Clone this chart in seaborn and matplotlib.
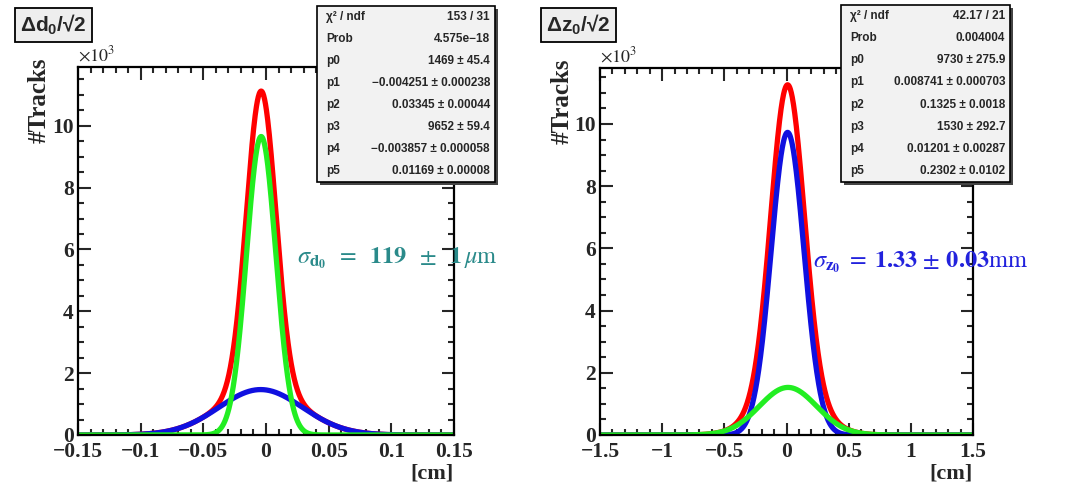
import numpy as np
import pandas as pd
import matplotlib
matplotlib.use("Agg")
import matplotlib.pyplot as plt
import seaborn as sns
from matplotlib.patches import Rectangle
from matplotlib.ticker import FixedLocator, FixedFormatter, MultipleLocator

# ---------------- data ----------------
titles = ["Δd$_\\mathrm{0}$/√2", "Δz$_\\mathrm{0}$/√2"]
stat_labels = ["χ² / ndf", "Prob", "p0", "p1", "p2", "p3", "p4", "p5"]
d0_stat_values = ["153 / 31", "4.575e\u221218", "1469 ± 45.4", "\u22120.004251 ± 0.000238",
                  "0.03345 ± 0.00044", "9652 ± 59.4", "\u22120.003857 ± 0.000058",
                  "0.01169 ± 0.00008"]
z0_stat_values = ["42.17 / 21", "0.004004", "9730 ± 275.9", "0.008741 ± 0.000703",
                  "0.1325 ± 0.0018", "1530 ± 292.7", "0.01201 ± 0.00287",
                  "0.2302 ± 0.0102"]

# double-gaussian fit parameters (p0..p5) shown in the stat boxes
d0_amp = [1469, 9652]
d0_mean = [-0.004251, -0.003857]
d0_sigma = [0.03345, 0.01169]
z0_amp = [9730, 1530]
z0_mean = [0.008741, 0.01201]
z0_sigma = [0.1325, 0.2302]

d0_xticks = [-0.15, -0.1, -0.05, 0, 0.05, 0.1, 0.15]
d0_xlabels = ["\u22120.15", "\u22120.1", "\u22120.05", "0", "0.05", "0.1", "0.15"]
z0_xticks = [-1.5, -1, -0.5, 0, 0.5, 1, 1.5]
z0_xlabels = ["\u22121.5", "\u22121", "\u22120.5", "0", "0.5", "1", "1.5"]
yticks = [0, 2, 4, 6, 8, 10]
ytick_labels = ["0", "2", "4", "6", "8", "10"]

sigma_texts = [r"$\sigma_{\mathbf{d_0}}\;\;=\;\;\mathbf{119}\;\;\pm\;\;\mathbf{1}\,\mu\mathrm{m}$",
               r"$\sigma_{\mathbf{z_0}}\;=\;\mathbf{1.33}\,\pm\,\mathbf{0.03}\mathrm{mm}$"]
sigma_colors = ["#2a8a8a", "#2222dd"]

# ---------------- style ----------------
sns.set_style("ticks")
plt.rcParams["font.family"] = ["Liberation Serif", "DejaVu Serif"]
plt.rcParams["mathtext.fontset"] = "custom"
plt.rcParams["mathtext.rm"] = "Liberation Sans:bold"
plt.rcParams["mathtext.it"] = "Liberation Sans:bold:italic"
plt.rcParams["mathtext.bf"] = "Liberation Sans:bold"

W, H = 1067, 488
fig = plt.figure(figsize=(W / 100, H / 100), dpi=100)
fig.patch.set_facecolor("white")


def fx(px):
    return px / W


def fy(py):
    return 1 - py / H


def gauss(x, a, m, s):
    return a * np.exp(-0.5 * ((x - m) / s) ** 2)


panels = [
    dict(rect=(78, 67, 454, 435), xr=(-0.15, 0.15), ymax=11.9, amp=d0_amp, mean=d0_mean,
         sig=d0_sigma, xt=d0_xticks, xl=d0_xlabels, xminor=0.01, stat=d0_stat_values,
         box=(317, 6, 495, 182), title_xy=(20, 25), sig_xy=(297, 258)),
    dict(rect=(600, 68, 973, 435), xr=(-1.5, 1.5), ymax=11.8, amp=z0_amp, mean=z0_mean,
         sig=z0_sigma, xt=z0_xticks, xl=z0_xlabels, xminor=0.1, stat=z0_stat_values,
         box=(841, 5, 1010, 182), title_xy=(546, 25), sig_xy=(813, 262)),
]

for i, p in enumerate(panels):
    l, t, r, b = p["rect"]
    ax = fig.add_axes([fx(l), fy(b), fx(r - l), fy(t) - fy(b)])
    x = np.linspace(p["xr"][0], p["xr"][1], 1200)
    g1 = gauss(x, p["amp"][0], p["mean"][0], p["sig"][0]) / 1000
    g2 = gauss(x, p["amp"][1], p["mean"][1], p["sig"][1]) / 1000
    df = pd.concat([
        pd.DataFrame({"x": x, "y": g1 + g2, "c": "total"}),
        pd.DataFrame({"x": x, "y": g1, "c": "g1"}),
        pd.DataFrame({"x": x, "y": g2, "c": "g2"}),
    ])
    sns.lineplot(data=df, x="x", y="y", hue="c", hue_order=["total", "g1", "g2"],
                 palette={"total": "#ff0000", "g1": "#1010e0", "g2": "#22ee22"},
                 linewidth=3.8, legend=False, ax=ax, sort=False)
    ax.set_xlim(*p["xr"])
    ax.set_ylim(0, p["ymax"])
    ax.xaxis.set_major_locator(FixedLocator(p["xt"]))
    ax.xaxis.set_major_formatter(FixedFormatter(p["xl"]))
    ax.xaxis.set_minor_locator(MultipleLocator(p["xminor"]))
    ax.yaxis.set_major_locator(FixedLocator(yticks))
    ax.yaxis.set_major_formatter(FixedFormatter(ytick_labels))
    ax.yaxis.set_minor_locator(MultipleLocator(0.5))
    ax.tick_params(which="both", direction="in", top=True, right=True, width=1.5,
                   labelsize=15.5)
    ax.tick_params(axis="x", which="major", pad=5)
    ax.tick_params(axis="y", which="major", pad=3)
    ax.tick_params(which="major", length=9)
    ax.tick_params(which="minor", length=4.5)
    for lab in ax.get_xticklabels() + ax.get_yticklabels():
        lab.set_fontweight("bold")
    for s in ax.spines.values():
        s.set_linewidth(1.6)
        s.set_color("black")
    ax.set_xlabel("[cm]", fontsize=16, fontweight="bold", loc="right", labelpad=1)
    ax.set_ylabel("#Tracks", fontsize=18, fontweight="bold", loc="top")
    ax.yaxis.set_label_coords(-0.072, 1.025)
    ax.text(0, 1.005, r"$\times10^{3}$", transform=ax.transAxes, fontsize=13,
            va="bottom", ha="left", math_fontfamily="stix")

    # sigma annotation
    sx, sy = p["sig_xy"]
    fig.text(fx(sx), fy(sy), sigma_texts[i], color=sigma_colors[i], fontsize=17.5,
             va="center", ha="left", math_fontfamily="stix", zorder=10)

    # title box
    tx, ty = p["title_xy"]
    fig.text(fx(tx), fy(ty), titles[i], fontsize=15, fontweight="bold",
             family="Liberation Sans", va="center", ha="left",
             bbox=dict(boxstyle="square,pad=0.25", fc="#eeeeee", ec="black", lw=1.3))

    # stats box
    bl, bt, br, bb = p["box"]
    fig.add_artist(Rectangle((fx(bl + 3), fy(bb + 3)), fx(br - bl), fy(bt) - fy(bb),
                             transform=fig.transFigure, fc="#444444", ec="none", zorder=8))
    fig.add_artist(Rectangle((fx(bl), fy(bb)), fx(br - bl), fy(bt) - fy(bb),
                             transform=fig.transFigure, fc="#f2f2f2", ec="black",
                             lw=1.2, zorder=9))
    row_h = (bb - bt) / 8.0
    for k, (lab, val) in enumerate(zip(stat_labels, p["stat"])):
        yy = bt + row_h * (k + 0.5)
        fig.text(fx(bl + 9), fy(yy), lab, fontsize=8.5, fontweight="bold",
                 family="Liberation Sans", va="center", ha="left", zorder=10)
        fig.text(fx(br - 5), fy(yy), val, fontsize=8.5, fontweight="bold",
                 family="Liberation Sans", va="center", ha="right", zorder=10)

fig.savefig("out.png", dpi=100, facecolor="white")
